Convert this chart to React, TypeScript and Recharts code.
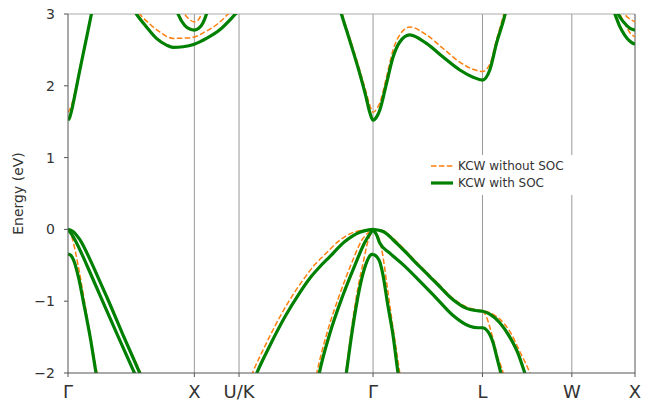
import React from "react";
import {
    LineChart,
    Line,
    XAxis,
    YAxis,
    ReferenceLine,
    Legend,
} from "recharts";

// k-path (units of 2pi/a) and labels
const kTicks = [0, 1, 1.3536, 2.4142, 3.2802, 3.9873, 4.4873];
const kLabels = ["Γ", "X", "U/K", "Γ", "L", "W", "X"];
const eTicks = [-2, -1, 0, 1, 2, 3];

// ---- KCW without SOC ----
const gxCbNo = [[0, 1.63], [0.0135, 1.67], [0.0293, 1.74], [0.0451, 1.84], [0.0926, 2.24], [0.1457, 2.68], [0.1853, 3.0], [0.2193, 3.3]];
const xCbNo = [[0.4886, 3.2], [0.5677, 3.0], [0.6469, 2.86], [0.7261, 2.75], [0.8314, 2.66], [0.9241, 2.665], [1.0, 2.68], [1.0825, 2.75], [1.1751, 2.85], [1.2669, 3.0], [1.3279, 3.12]];
const xPocketNo = [[0.8845, 3.2], [0.9241, 3.0], [0.9637, 2.92], [1.0, 2.89], [1.027, 2.91], [1.0563, 3.0], [1.0904, 3.2]];
const gxLhNo = [[0, 0], [0.0293, -0.1], [0.061, -0.33], [0.0926, -0.62], [0.1322, -1.02], [0.1837, -1.55], [0.2296, -2.0], [0.2589, -2.3]];
const gxHhNo = [[0, 0], [0.0372, -0.03], [0.0926, -0.15], [0.1718, -0.42], [0.251, -0.73], [0.3167, -0.99], [0.4307, -1.45], [0.5757, -2.0], [0.639, -2.25]];
const kgHhNo = [[1.4071, -2.25], [1.4601, -2.0], [1.5575, -1.63], [1.6763, -1.22], [1.7951, -0.87], [1.8743, -0.67], [1.9534, -0.49], [2.0326, -0.35], [2.1514, -0.15], [2.2702, -0.035], [2.4142, 0]];
const kgLhNo = [[1.9416, -2.25], [1.9693, -2.0], [2.0485, -1.45], [2.1514, -0.9], [2.2464, -0.46], [2.3256, -0.15], [2.4142, 0]];
const kgThirdNo = [[2.1752, -2.3], [2.1989, -2.0], [2.2464, -1.35], [2.2939, -0.82], [2.3375, -0.45], [2.3731, -0.17], [2.4142, 0]];
const glLhNo = [[2.4142, 0], [2.4435, -0.06], [2.4672, -0.16], [2.491, -0.36], [2.5227, -0.75], [2.5623, -1.25], [2.6256, -2.0], [2.6494, -2.3]];
const glHhNo = [[2.4142, 0], [2.4934, -0.02], [2.5702, -0.12], [2.6518, -0.26], [2.784, -0.5], [2.9163, -0.73], [3.0477, -0.96], [3.1538, -1.08], [3.2275, -1.12], [3.2802, -1.13], [3.338, -1.16], [3.4172, -1.25], [3.4964, -1.42], [3.5756, -1.7], [3.6548, -2.0], [3.6944, -2.2]];
const lwHh2No = [[3.2802, -1.13], [3.3124, -1.22], [3.338, -1.36], [3.3697, -1.56], [3.4014, -1.78], [3.4433, -2.0], [3.4647, -2.2]];
const cbNo = [[2.1188, 3.33], [2.1703, 3.0], [2.2297, 2.67], [2.3089, 2.22], [2.3564, 1.93], [2.3881, 1.73], [2.4142, 1.63], [2.4435, 1.68], [2.4672, 1.76], [2.5203, 2.12], [2.5726, 2.5], [2.6256, 2.71], [2.7048, 2.82], [2.837, 2.71], [2.9685, 2.52], [3.1007, 2.33], [3.206, 2.23], [3.2802, 2.2], [3.338, 2.3], [3.3911, 2.64], [3.4489, 3.0], [3.4885, 3.3]];
const wxCbNo = [[4.3131, 3.3], [4.3685, 3.0], [4.4081, 2.86], [4.4477, 2.74], [4.4873, 2.68]];
const wxPocketNo = [[4.3606, 3.3], [4.4081, 3.0], [4.4477, 2.93], [4.4873, 2.89]];

// ---- KCW with SOC ----
const gxCbSoc = [[0, 1.52], [0.0135, 1.56], [0.0293, 1.66], [0.0451, 1.79], [0.0926, 2.21], [0.1457, 2.66], [0.1853, 3.0], [0.2193, 3.3]];
const xCbSoc = [[0.4727, 3.2], [0.5416, 3.0], [0.6208, 2.82], [0.7, 2.66], [0.7792, 2.567], [0.8314, 2.535], [0.9106, 2.544], [1.0, 2.58], [1.0959, 2.66], [1.2012, 2.78], [1.32, 2.99], [1.3517, 3.05]];
const xPocketSoc = [[0.8211, 3.3], [0.871, 3.0], [0.9241, 2.84], [0.9637, 2.79], [1.0, 2.776], [1.0349, 2.8], [1.0666, 2.87], [1.0959, 3.0], [1.1379, 3.3]];
const gxVb1Soc = [[0, 0], [0.0372, -0.025], [0.0926, -0.14], [0.1718, -0.41], [0.251, -0.72], [0.3167, -0.98], [0.4307, -1.45], [0.5677, -2.0], [0.631, -2.26]];
const gxVb2Soc = [[0, 0], [0.0293, -0.07], [0.0768, -0.22], [0.1243, -0.4], [0.1718, -0.59], [0.2613, -0.95], [0.3935, -1.48], [0.5258, -2.0], [0.5915, -2.26]];
const gxSoSoc = [[0, -0.345], [0.0214, -0.36], [0.0451, -0.43], [0.0847, -0.68], [0.1243, -1.03], [0.1774, -1.52], [0.2217, -2.0], [0.251, -2.3]];
const kgHhSoc = [[1.4388, -2.25], [1.4942, -2.0], [1.5971, -1.62], [1.7159, -1.22], [1.8347, -0.88], [1.9139, -0.68], [1.993, -0.52], [2.0722, -0.38], [2.191, -0.17], [2.3098, -0.04], [2.4142, 0]];
const kgLhSoc = [[1.9614, -2.25], [1.9891, -2.0], [2.0722, -1.45], [2.1752, -0.92], [2.2702, -0.5], [2.3494, -0.18], [2.4142, 0]];
const kgSoSoc = [[2.1791, -2.3], [2.2029, -2.0], [2.2464, -1.45], [2.286, -1.02], [2.3256, -0.68], [2.3652, -0.45], [2.3929, -0.36], [2.4142, -0.345]];
const glVb1Soc = [[2.4142, 0], [2.4934, -0.03], [2.5702, -0.14], [2.6518, -0.28], [2.784, -0.52], [2.9163, -0.75], [3.0477, -0.98], [3.1538, -1.1], [3.2275, -1.13], [3.2802, -1.14], [3.338, -1.18], [3.4172, -1.3], [3.4964, -1.5], [3.5598, -1.72], [3.6152, -2.0], [3.6548, -2.2]];
const glVb2Soc = [[2.4142, 0], [2.4435, -0.08], [2.4672, -0.19], [2.5464, -0.33], [2.6518, -0.49], [2.784, -0.72], [2.9163, -0.96], [3.0477, -1.2], [3.18, -1.35], [3.2433, -1.37], [3.2802, -1.37], [3.3222, -1.42], [3.3642, -1.58], [3.3935, -1.78], [3.4251, -2.0], [3.4489, -2.2]];
const glSoSoc = [[2.4142, -0.345], [2.4435, -0.38], [2.4672, -0.45], [2.491, -0.62], [2.5306, -1.05], [2.5702, -1.45], [2.6122, -2.0], [2.6415, -2.3]];
const cbSoc = [[2.1188, 3.28], [2.164, 3.0], [2.2297, 2.63], [2.3089, 2.17], [2.3564, 1.86], [2.3881, 1.63], [2.4142, 1.52], [2.4435, 1.57], [2.4672, 1.66], [2.5203, 2.03], [2.5726, 2.4], [2.6256, 2.61], [2.7048, 2.71], [2.837, 2.59], [2.9685, 2.4], [3.1007, 2.22], [3.206, 2.12], [3.2802, 2.08], [3.338, 2.22], [3.3911, 2.59], [3.4568, 2.98], [3.4964, 3.3]];
const wxCbSoc = [[4.2735, 3.3], [4.3289, 3.0], [4.3685, 2.82], [4.4081, 2.7], [4.4477, 2.62], [4.4873, 2.577]];
const wxPocketSoc = [[4.3052, 3.3], [4.3551, 3.0], [4.4002, 2.88], [4.4477, 2.8], [4.4873, 2.776]];

const noSocBands = [gxCbNo, xCbNo, xPocketNo, gxLhNo, gxHhNo, kgHhNo, kgLhNo, kgThirdNo, glLhNo, glHhNo, lwHh2No, cbNo, wxCbNo, wxPocketNo];
const socBands = [gxCbSoc, xCbSoc, xPocketSoc, gxVb1Soc, gxVb2Soc, gxSoSoc, kgHhSoc, kgLhSoc, kgSoSoc, glVb1Soc, glVb2Soc, glSoSoc, cbSoc, wxCbSoc, wxPocketSoc];

const ORANGE = "#ff7f0e";
const GREEN = "#008000";
const FONT = "'DejaVu Sans', sans-serif";

const legendItems = [
    { label: "KCW without SOC", color: ORANGE, dash: "5.5 2.4", width: 1.5 },
    { label: "KCW with SOC", color: GREEN, dash: undefined, width: 3.2 },
];

const pts = (arr: number[][]) => arr.map(([k, e]) => ({ k, e }));

const fmtE = (v: number) => (v < 0 ? `\u2212${-v}` : `${v}`);

function LegendBox() {
    return (
        <div style={{ background: "#fff", padding: "2px 6px 4px 7px", width: 157 }}>
            {legendItems.map((it) => (
                <div key={it.label} style={{ display: "flex", alignItems: "center", height: 17 }}>
                    <svg width={22} height={10} style={{ marginRight: 5 }}>
                        <line x1={0} x2={22} y1={5} y2={5} stroke={it.color} strokeWidth={it.width} strokeDasharray={it.dash} />
                    </svg>
                    <span style={{ fontSize: 12, color: "#333", fontFamily: FONT, whiteSpace: "nowrap" }}>{it.label}</span>
                </div>
            ))}
        </div>
    );
}

export default function App() {
    return (
        <div style={{ position: "absolute", left: 0, top: 0, width: 650, height: 403, background: "#fff", fontFamily: FONT }}>
            <LineChart width={650} height={403} margin={{ top: 14, right: 15, bottom: 0, left: 0 }}>
                <XAxis
                    type="number"
                    dataKey="k"
                    domain={[0, kTicks[kTicks.length - 1]]}
                    ticks={kTicks}
                    interval={0}
                    allowDataOverflow
                    tickFormatter={(v: number) => kLabels[kTicks.indexOf(v)] ?? ""}
                    height={30}
                    tickSize={4}
                    tickMargin={8}
                    stroke="#555"
                    tick={{ fontSize: 18, fill: "#333", fontFamily: FONT }}
                />
                <YAxis
                    type="number"
                    domain={[-2, 3]}
                    ticks={eTicks}
                    allowDataOverflow
                    width={68}
                    tickSize={4}
                    tickMargin={9}
                    stroke="#555"
                    tickFormatter={fmtE}
                    tick={{ fontSize: 14, fill: "#333", fontFamily: FONT }}
                    label={{ value: "Energy (eV)", angle: -90, position: "center", dx: -16, style: { fontSize: 14, fill: "#333", fontFamily: FONT } }}
                />
                {kTicks.slice(1, -1).map((k, i) => (
                    <ReferenceLine key={"v" + i} x={k} stroke="#999" strokeWidth={1} />
                ))}
                <ReferenceLine y={3} stroke="#aaa" strokeWidth={1} />
                <ReferenceLine x={kTicks[kTicks.length - 1]} stroke="#555" strokeWidth={1} />
                {noSocBands.map((b, i) => (
                    <Line
                        key={"n" + i}
                        data={pts(b)}
                        dataKey="e"
                        type="monotone"
                        stroke={ORANGE}
                        strokeWidth={1.5}
                        strokeDasharray="5.5 2.4"
                        dot={false}
                        activeDot={false}
                        legendType="none"
                        isAnimationActive={false}
                    />
                ))}
                {socBands.map((b, i) => (
                    <Line
                        key={"s" + i}
                        data={pts(b)}
                        dataKey="e"
                        type="monotone"
                        stroke={GREEN}
                        strokeWidth={3.2}
                        dot={false}
                        activeDot={false}
                        legendType="none"
                        isAnimationActive={false}
                    />
                ))}
                <Legend
                    layout="vertical"
                    align="center"
                    verticalAlign="middle"
                    wrapperStyle={{ left: 424, top: 155, width: 170 }}
                    content={() => <LegendBox />}
                />
            </LineChart>
        </div>
    );
}
